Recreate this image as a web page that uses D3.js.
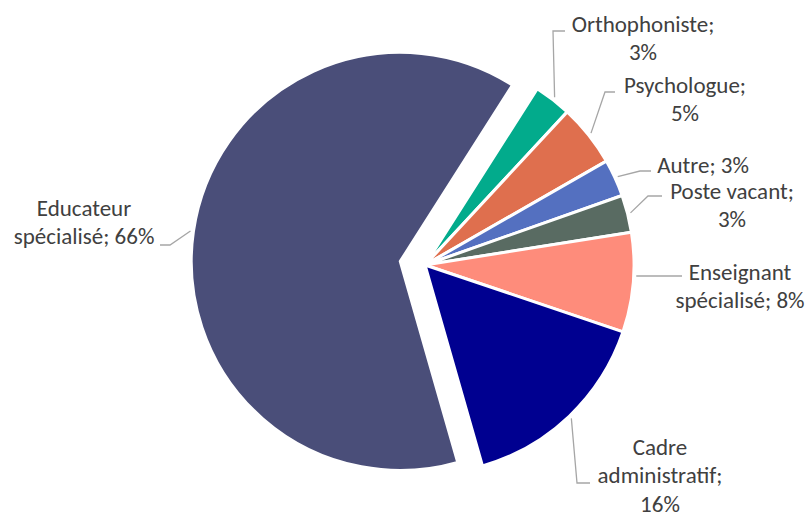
<!DOCTYPE html>
<html lang="fr">
<head>
<meta charset="utf-8">
<title>Pie</title>
<script src="https://d3js.org/d3.v7.min.js"></script>
<style>
  body { margin: 0; background: #fff; }
  text { font-family: Carlito, Lato, sans-serif; font-size: 23px; fill: #404040; }
</style>
</head>
<body>
<script>
// data
var categories = ["Orthophoniste", "Psychologue", "Autre", "Poste vacant", "Enseignant spécialisé", "Cadre administratif", "Educateur spécialisé"];
var values = [3, 5, 3, 3, 8, 16, 66];
var colors = ["#02ab8c", "#df6f4e", "#5470c0", "#596b62", "#fe8c7b", "#000090", "#4a4e79"];
// how each label is broken into lines
var labelLines = [
  ["Orthophoniste;", "3%"],
  ["Psychologue;", "5%"],
  ["Autre; 3%"],
  ["Poste vacant;", "3%"],
  ["Enseignant", "spécialisé; 8%"],
  ["Cadre", "administratif;", "16%"],
  ["Educateur", "spécialisé; 66%"]
];

var width = 810, height = 515;
var cx = 425, cy = 265, radius = 209;
var startDeg = 32.5;
var explode = [0, 0, 0, 0, 0, 0, 25];

// label layout: text centre x, first baseline y, elbow + end of leader line
var labelPos = [
  {x: 643, y: 32, ex: 553, ey: 31, hx: 565},
  {x: 685, y: 93, ex: 605, ey: 92, hx: 615},
  {x: 703, y: 173, ex: 640, ey: 171, hx: 651},
  {x: 732, y: 199, ex: 648, ey: 196, hx: 662},
  {x: 740, y: 280, ex: null, ey: 276, hx: 682},
  {x: 660, y: 455, ex: 577, ey: 483, hx: 590},
  {x: 84, y: 216, ex: 170, ey: 245, hx: 160}
];
var lineH = 28.3;

var svg = d3.select("body").append("svg")
    .attr("width", width)
    .attr("height", height);

var pie = d3.pie()
    .sort(null)
    .startAngle(startDeg * Math.PI / 180)
    .endAngle(startDeg * Math.PI / 180 + 2 * Math.PI);

var arcs = pie(values);

var arc = d3.arc().innerRadius(0).outerRadius(radius);

function offset(d, i) {
  var a = (d.startAngle + d.endAngle) / 2;
  return [explode[i] * Math.sin(a), -explode[i] * Math.cos(a)];
}

var g = svg.append("g").attr("transform", "translate(" + cx + "," + cy + ")");

g.selectAll("path.slice")
  .data(arcs)
  .enter()
  .append("path")
  .attr("class", "slice")
  .attr("d", arc)
  .attr("transform", function(d, i) {
    var o = offset(d, i);
    return "translate(" + o[0] + "," + o[1] + ")";
  })
  .attr("fill", function(d, i) { return colors[i]; })
  .attr("stroke", "#fff")
  .attr("stroke-width", 3)
  .attr("stroke-linejoin", "round");

// leader lines
svg.selectAll("polyline.leader")
  .data(arcs)
  .enter()
  .append("polyline")
  .attr("class", "leader")
  .attr("points", function(d, i) {
    var a = (d.startAngle + d.endAngle) / 2;
    var o = offset(d, i);
    var r = radius + 3;
    var sx = cx + o[0] + r * Math.sin(a), sy = cy + o[1] - r * Math.cos(a);
    var p = labelPos[i];
    var pts = [[sx, sy]];
    if (p.ex !== null) pts.push([p.ex, p.ey]);
    else pts[0][1] = p.ey;
    pts.push([p.hx, p.ey]);
    return pts.map(function(q) { return q.join(","); }).join(" ");
  })
  .attr("fill", "none")
  .attr("stroke", "#a6a6a6")
  .attr("stroke-width", 1.3);

// labels
svg.selectAll("text.lbl")
  .data(arcs)
  .enter()
  .append("text")
  .attr("class", "lbl")
  .attr("text-anchor", "middle")
  .each(function(d, i) {
    var t = d3.select(this);
    labelLines[i].forEach(function(s, k) {
      t.append("tspan")
        .attr("x", labelPos[i].x)
        .attr("y", labelPos[i].y + k * lineH)
        .text(s);
    });
  });
</script>
</body>
</html>
